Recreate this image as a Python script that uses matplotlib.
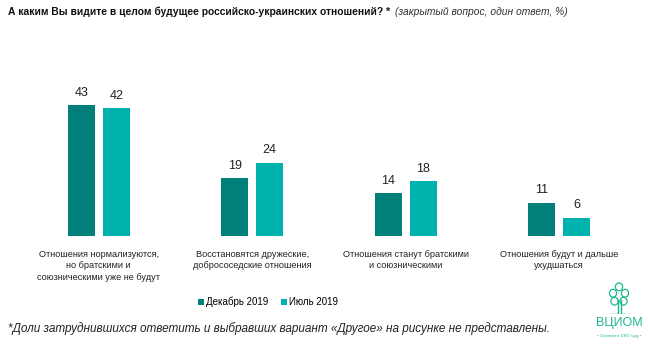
import matplotlib.pyplot as plt
import numpy as np

plt.rcParams['font.family'] = ['Liberation Sans', 'DejaVu Sans']

# data
categories = [
    'Отношения нормализуются,\nно братскими и\nсоюзническими уже не будут',
    'Восстановятся дружеские,\nдобрососедские отношения',
    'Отношения станут братскими\nи союзническими',
    'Отношения будут и дальше\nухудшаться',
]
series_names = ['Декабрь 2019', 'Июль 2019']
dec_2019 = [43, 19, 14, 11]
jul_2019 = [42, 24, 18, 6]
colors = ['#007F7B', '#00B2AD']

fig = plt.figure(figsize=(6.48, 3.44), dpi=100)
ax = fig.add_axes([22 / 648, 108 / 344, 614 / 648, 152 / 344])

x = np.arange(len(categories))
width = 0.176
offset = 0.114
b1 = ax.bar(x - offset, dec_2019, width, color=colors[0], label=series_names[0])
b2 = ax.bar(x + offset, jul_2019, width, color=colors[1], label=series_names[1])
for bars in (b1, b2):
    for rect in bars:
        h = rect.get_height()
        ax.text(rect.get_x() + rect.get_width() / 2, h + 2.2, f'{h:g}',
                ha='center', va='bottom', fontsize=9, color='#222222')

ax.set_xlim(-0.5, len(categories) - 0.5)
ax.set_ylim(0, 50)
ax.set_xticks(x)
ax.set_xticklabels(categories, fontsize=6.6, color='#222222', linespacing=1.35)
ax.tick_params(axis='x', length=0, pad=10)
ax.set_yticks([])
for s in ax.spines.values():
    s.set_visible(False)

# title
t = fig.text(8 / 648, 1 - 12 / 344, 'А каким Вы видите в целом будущее российско-украинских отношений? *',
             fontsize=7.4, fontweight='bold', ha='left', va='center', color='#111111')
fig.canvas.draw()
bb = t.get_window_extent()
fig.text(bb.x1 / fig.bbox.width + 5 / 648, 1 - 12 / 344, '(закрытый вопрос, один ответ, %)',
         fontsize=7.4, style='italic', ha='left', va='center', color='#333333')

# legend
fig.legend(handles=[b1, b2], labels=series_names, loc='center', bbox_to_anchor=(268 / 648, 1 - 302 / 344),
           ncol=2, frameon=False, fontsize=7, handlelength=0.6, handleheight=0.6,
           handletextpad=0.2, columnspacing=1.3)

# footnote
fig.text(8 / 648, 1 - 329 / 344,
         '*Доли затруднившихся ответить и выбравших вариант «Другое» на рисунке не представлены.',
         fontsize=8.5, style='italic', ha='left', va='center', color='#222222')

# logo
green = '#1DB88F'
fig.text(619 / 648, 1 - 323 / 344, 'ВЦИОМ', fontsize=9, color=green, ha='center', va='center')
fig.text(619 / 648, 1 - 336 / 344, '• Основан в 1987 году •', fontsize=3, color=green,
         ha='center', va='center')
lax = fig.add_axes([604 / 648, 1 - 314 / 344, 30 / 648, 32 / 344])
lax.set_xlim(0, 1)
lax.set_ylim(0, 1)
lax.axis('off')
lax.plot([0.45, 0.45, 0.15], [0.45, 0.0, 0.0], color=green, lw=1)
lax.plot([0.55, 0.55, 0.85], [0.45, 0.0, 0.0], color=green, lw=1)
for cx, cy in [(0.5, 0.85), (0.3, 0.65), (0.7, 0.65), (0.35, 0.4), (0.65, 0.4)]:
    lax.add_patch(plt.Circle((cx, cy), 0.12, fill=False, ec=green, lw=0.9))

fig.savefig('out.png', dpi=100)
